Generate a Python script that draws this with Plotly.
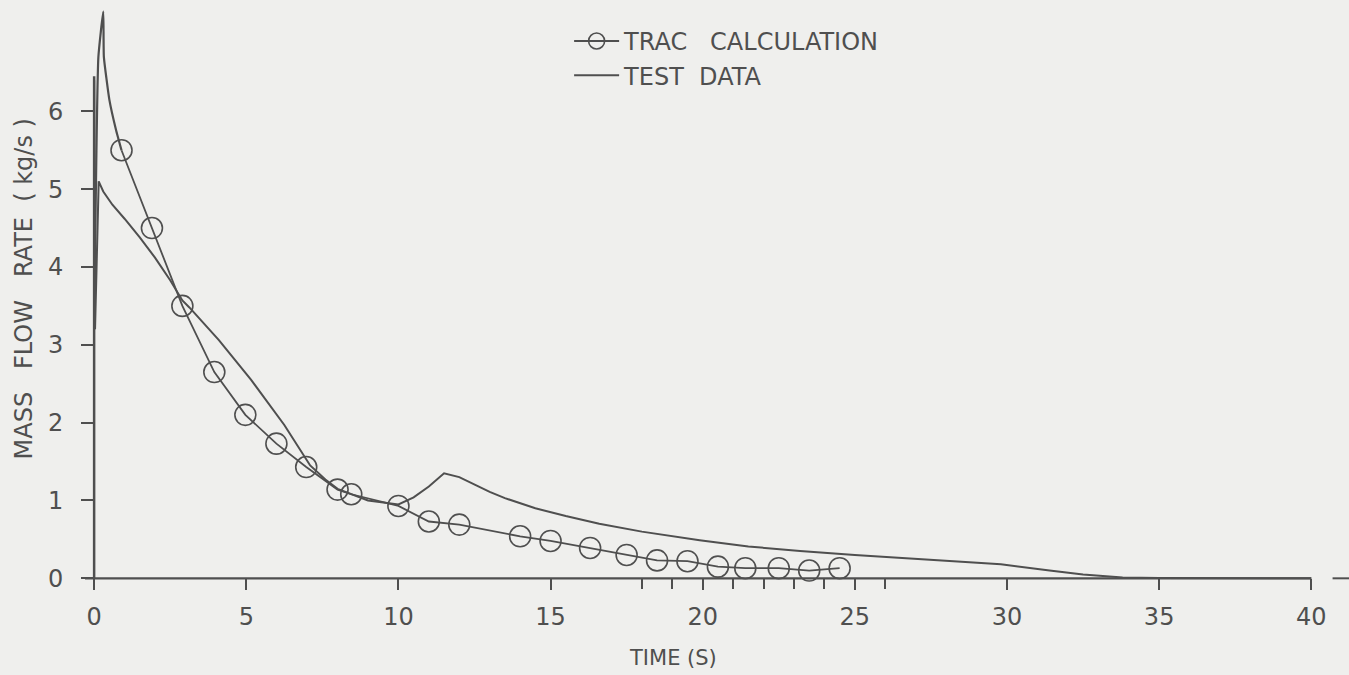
import plotly.graph_objects as go

# TRAC calculation: spike segment before the first computed point
trac_spike_t = [0.0, 0.14, 0.30, 0.32, 0.50, 0.72, 0.9]
trac_spike_y = [3.2, 6.7, 7.28, 6.7, 6.15, 5.76, 5.5]

# TRAC calculation: computed points (circles)
trac_t = [0.9, 1.9, 2.9, 3.95, 4.97, 5.99, 6.97, 8.0, 8.45, 10.0, 11.0, 12.0,
          14.0, 15.0, 16.3, 17.5, 18.5, 19.5, 20.5, 21.4, 22.5, 23.5, 24.5]
trac_y = [5.5, 4.5, 3.5, 2.65, 2.1, 1.73, 1.43, 1.14, 1.08, 0.93, 0.73, 0.69,
          0.54, 0.48, 0.39, 0.30, 0.23, 0.22, 0.15, 0.13, 0.13, 0.10, 0.13]

# Measured test data
test_t = [0.0, 0.03, 0.15, 0.3, 0.6, 1.0, 1.5, 2.0, 2.5, 2.9, 3.13, 4.1, 5.16,
          6.25, 7.1, 7.6, 8.0, 8.5, 9.0, 10.0, 10.5, 11.0, 11.5, 12.0, 12.5,
          13.0, 13.5, 14.5, 15.5, 16.6, 18.0, 19.9, 21.5, 23.2, 25.0, 26.5,
          28.0, 29.8, 31.4, 32.5, 33.8, 35.0, 40.0, None, 40.7, 41.3]
test_y = [6.4, 3.2, 5.1, 4.97, 4.8, 4.62, 4.38, 4.12, 3.83, 3.57, 3.48, 3.06,
          2.55, 1.97, 1.45, 1.27, 1.15, 1.07, 1.0, 0.95, 1.04, 1.18, 1.35, 1.3,
          1.2, 1.11, 1.03, 0.9, 0.8, 0.7, 0.6, 0.49, 0.41, 0.35, 0.3, 0.26,
          0.22, 0.18, 0.1, 0.05, 0.01, 0.005, 0.0, None, 0.0, 0.0]

x_ticks = [0, 5, 10, 15, 20, 25, 30, 35, 40]
x_minor_ticks = [18, 19, 21, 22, 23, 24, 26]
y_ticks = [0, 1, 2, 3, 4, 5, 6]

INK = "#4f4f4f"
BG = "#efefed"
FONT = "DejaVu Sans"
SP = "\u00a0"

x_range = [-0.3, 41.24]
y_range = [-0.15, 7.43]

fig = go.Figure()

fig.add_trace(go.Scatter(
    x=trac_spike_t, y=trac_spike_y, mode="lines", line_shape="spline",
    line=dict(color=INK, width=2.2, smoothing=0.4),
    showlegend=False, hoverinfo="skip"))

fig.add_trace(go.Scatter(
    x=trac_t, y=trac_y, mode="lines+markers", name="TRAC" + SP * 3 + "CALCULATION",
    line=dict(color=INK, width=1.8),
    marker=dict(symbol="circle-open", size=21, color=INK, line=dict(width=1.6))))

fig.add_trace(go.Scatter(
    x=test_t, y=test_y, mode="lines", name="TEST" + SP * 2 + "DATA",
    line=dict(color=INK, width=2.0)))

# axis lines: y axis up to 6.45, x axis from 0 to 40
fig.add_shape(type="line", xref="x", yref="y", x0=0, x1=0, y0=0, y1=6.45,
              line=dict(color=INK, width=2.5))
fig.add_shape(type="line", xref="x", yref="y", x0=-0.45, x1=40, y0=0, y1=0,
              line=dict(color=INK, width=2.2))

x0_frac = (0 - x_range[0]) / (x_range[1] - x_range[0])
y0_frac = (0 - y_range[0]) / (y_range[1] - y_range[0])

fig.update_xaxes(
    range=x_range, anchor="free", position=y0_frac, showline=False,
    showgrid=False, zeroline=False,
    tickmode="array", tickvals=x_ticks, ticks="outside", ticklen=11,
    tickwidth=2, tickcolor=INK, ticklabelstandoff=6,
    tickfont=dict(family=FONT, size=24, color=INK),
    minor=dict(tickmode="array", tickvals=x_minor_ticks, ticks="outside",
               ticklen=10, tickwidth=2, tickcolor=INK, showgrid=False))

fig.update_yaxes(
    range=y_range, anchor="free", position=x0_frac, showline=False,
    showgrid=False, zeroline=False,
    tickmode="array", tickvals=y_ticks, ticks="outside", ticklen=13,
    tickwidth=2, tickcolor=INK, ticklabelstandoff=13,
    tickfont=dict(family=FONT, size=24, color=INK))

fig.add_annotation(
    text="MASS" + SP * 3 + "FLOW" + SP * 3 + "RATE" + SP * 2 + "(" + SP + "kg/s" + SP + ")",
    xref="paper", yref="paper", x=-0.048, y=0.51, textangle=-90,
    showarrow=False, font=dict(family=FONT, size=24, color=INK),
    xanchor="center", yanchor="middle")

fig.add_annotation(
    text="TIME" + SP + "(S)", xref="paper", yref="paper", x=0.465, y=-0.115,
    showarrow=False, font=dict(family=FONT, size=21, color=INK),
    xanchor="center", yanchor="middle")

fig.update_layout(
    width=1349, height=675,
    margin=dict(l=85, r=0, t=0, b=85),
    paper_bgcolor=BG, plot_bgcolor=BG,
    font=dict(family=FONT, color=INK),
    legend=dict(x=0.383, y=0.968, xanchor="left", yanchor="top",
                bgcolor="rgba(0,0,0,0)", borderwidth=0,
                font=dict(family=FONT, size=24, color=INK),
                tracegroupgap=0, itemwidth=45),
)

fig.write_html("out.html")
